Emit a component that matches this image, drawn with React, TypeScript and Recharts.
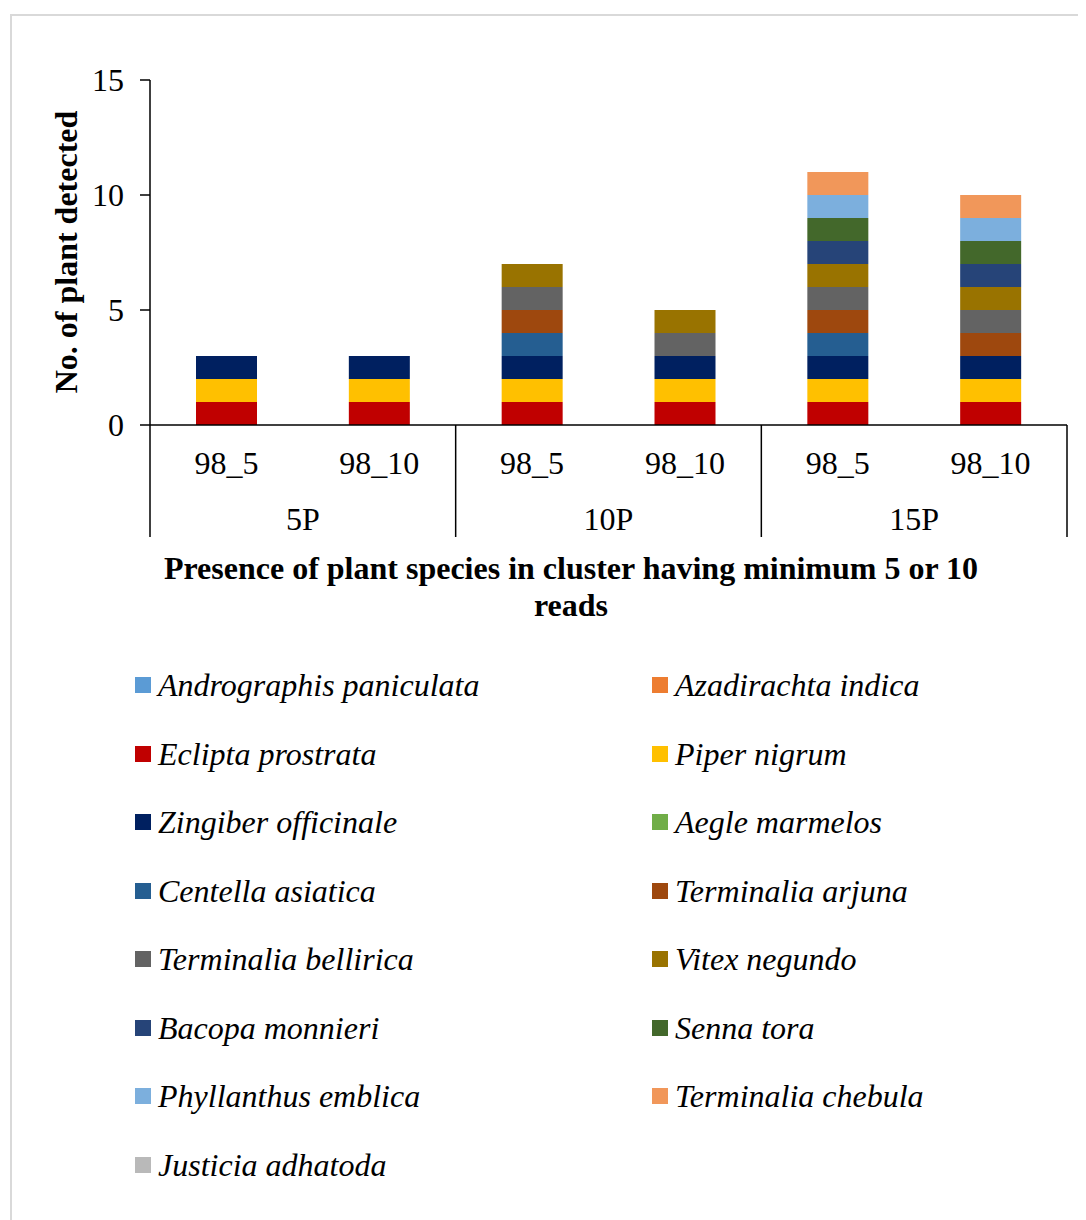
import React from 'react';
import { BarChart, Bar, XAxis, YAxis } from 'recharts';

const groups = ['5P', '10P', '15P'];
const thresholds = ['98_5', '98_10'];

const species = [
  'Andrographis paniculata',
  'Azadirachta indica',
  'Eclipta prostrata',
  'Piper nigrum',
  'Zingiber officinale',
  'Aegle marmelos',
  'Centella asiatica',
  'Terminalia arjuna',
  'Terminalia bellirica',
  'Vitex negundo',
  'Bacopa monnieri',
  'Senna tora',
  'Phyllanthus emblica',
  'Terminalia chebula',
  'Justicia adhatoda',
];

const colors = [
  '#5B9BD5', '#ED7D31', '#C00000', '#FFC000', '#002060',
  '#70AD47', '#255E91', '#9E480E', '#636363', '#997300',
  '#264478', '#43682B', '#7CAFDD', '#F1975A', '#B9B9B9',
];

// columns: 5P 98_5, 5P 98_10, 10P 98_5, 10P 98_10, 15P 98_5, 15P 98_10
const andrographis = [0, 0, 0, 0, 0, 0];
const azadirachta = [0, 0, 0, 0, 0, 0];
const eclipta = [1, 1, 1, 1, 1, 1];
const piper = [1, 1, 1, 1, 1, 1];
const zingiber = [1, 1, 1, 1, 1, 1];
const aegle = [0, 0, 0, 0, 0, 0];
const centella = [0, 0, 1, 0, 1, 0];
const arjuna = [0, 0, 1, 0, 1, 1];
const bellirica = [0, 0, 1, 1, 1, 1];
const vitex = [0, 0, 1, 1, 1, 1];
const bacopa = [0, 0, 0, 0, 1, 1];
const senna = [0, 0, 0, 0, 1, 1];
const phyllanthus = [0, 0, 0, 0, 1, 1];
const chebula = [0, 0, 0, 0, 1, 1];
const justicia = [0, 0, 0, 0, 0, 0];

const yTicks = [0, 5, 10, 15];

const seriesValues = [
  andrographis, azadirachta, eclipta, piper, zingiber, aegle, centella,
  arjuna, bellirica, vitex, bacopa, senna, phyllanthus, chebula, justicia,
];

const data = groups.flatMap((g, gi) =>
  thresholds.map((t, ti) => {
    const idx = gi * thresholds.length + ti;
    const row: Record<string, string | number> = { key: `${g}|${t}` };
    species.forEach((s, si) => {
      row[s] = seriesValues[si][idx];
    });
    return row;
  })
);

const FONT = '"Liberation Serif", "Times New Roman", serif';
const BAND = (1059 - 142) / data.length;

function CategoryTick(props: any) {
  const { x, y, payload, index } = props;
  const [group, label] = String(payload.value).split('|');
  const half = payload.offset || BAND / 2;
  const i = index ?? payload.index;
  return (
    <g>
      <text x={x} y={y + 49} textAnchor="middle" fontFamily={FONT} fontSize={32} fill="#000">
        {label}
      </text>
      {i % 2 === 0 && (
        <>
          <line x1={x - half} x2={x - half} y1={y} y2={y + 112} stroke="#000" strokeWidth={1.5} />
          <text x={x + half} y={y + 105} textAnchor="middle" fontFamily={FONT} fontSize={32} fill="#000">
            {group}
          </text>
        </>
      )}
      {i === data.length - 1 && (
        <line x1={x + half} x2={x + half} y1={y} y2={y + 112} stroke="#000" strokeWidth={1.5} />
      )}
    </g>
  );
}

export default function App() {
  const legendRows = Math.ceil(species.length / 2);
  return (
    <div style={{ position: 'relative', width: 1078, height: 1212, overflow: 'hidden', background: '#fff' }}>
      <div
        style={{
          position: 'absolute',
          left: 2,
          top: 6,
          width: 1120,
          height: 1260,
          border: '2px solid #d9d9d9',
          boxSizing: 'border-box',
        }}
      />
      <div style={{ position: 'absolute', left: 0, top: 0 }}>
        <BarChart
          width={1078}
          height={560}
          data={data}
          margin={{ top: 72, right: 19, left: 82, bottom: 0 }}
          barSize={61}
        >
          <XAxis
            dataKey="key"
            interval={0}
            height={143}
            tickLine={false}
            tickSize={0}
            tickMargin={0}
            axisLine={{ stroke: '#000', strokeWidth: 1.5 }}
            tick={<CategoryTick />}
          />
          <YAxis
            width={60}
            domain={[0, 15]}
            ticks={yTicks}
            tickSize={10}
            tickMargin={16}
            axisLine={{ stroke: '#000', strokeWidth: 1.5 }}
            tickLine={{ stroke: '#000', strokeWidth: 1.5 }}
            tick={{ fill: '#000', fontSize: 32, fontFamily: FONT }}
          />
          {species.map((s, si) => (
            <Bar key={s} dataKey={s} stackId="a" fill={colors[si]} isAnimationActive={false} />
          ))}
        </BarChart>
      </div>
      <div
        style={{
          position: 'absolute',
          left: 58,
          top: 244,
          transform: 'translate(-50%, -50%) rotate(-90deg)',
          whiteSpace: 'nowrap',
          fontFamily: FONT,
          fontWeight: 'bold',
          fontSize: 32,
        }}
      >
        No. of plant detected
      </div>
      <div
        style={{
          position: 'absolute',
          left: 563,
          top: 542,
          transform: 'translateX(-50%)',
          width: 850,
          textAlign: 'center',
          fontFamily: FONT,
          fontWeight: 'bold',
          fontSize: 32,
          lineHeight: '37px',
        }}
      >
        Presence of plant species in cluster having minimum 5 or 10 reads
      </div>
      {species.map((s, si) => {
        const row = Math.floor(si / 2);
        const col = si % 2;
        const cy = 677 + row * ((1157 - 677) / (legendRows - 1));
        return (
          <div
            key={s}
            style={{
              position: 'absolute',
              left: col === 0 ? 127 : 644,
              top: cy - 18,
              height: 36,
              display: 'flex',
              alignItems: 'center',
              whiteSpace: 'nowrap',
            }}
          >
            <span style={{ width: 16, height: 16, background: colors[si], marginRight: 7, display: 'inline-block' }} />
            <span style={{ fontFamily: FONT, fontStyle: 'italic', fontSize: 32, lineHeight: '36px' }}>{s}</span>
          </div>
        );
      })}
    </div>
  );
}
